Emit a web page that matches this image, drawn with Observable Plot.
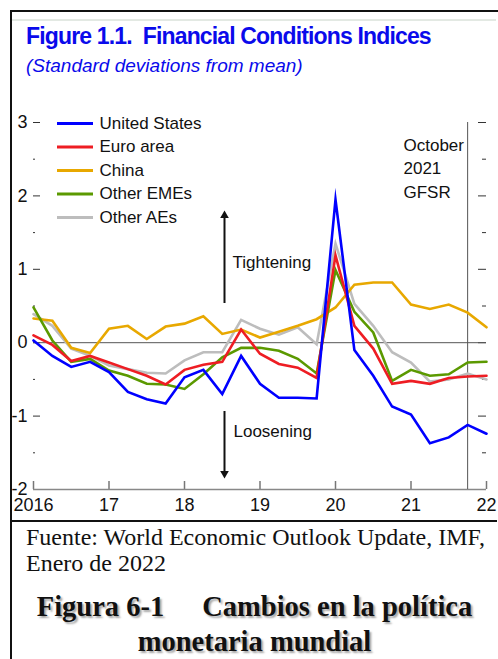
<!DOCTYPE html>
<html>
<head>
<meta charset="utf-8">
<script src="https://cdn.jsdelivr.net/npm/d3@7"></script>
<script src="https://cdn.jsdelivr.net/npm/@observablehq/plot@0.6"></script>
<style>
  html, body { margin: 0; padding: 0; background: #fff; }
  body { width: 498px; height: 659px; position: relative; overflow: hidden; }
  .abs { position: absolute; }
  #borderLeft { left: 10px; top: 10px; width: 2px; height: 660px; background: #111; }
  #borderTop { left: 10px; top: 10px; width: 490px; height: 2px; background: #111; }
  #faintLine { left: 12px; top: 19px; width: 484px; height: 2px; background: #e3e9e3; }
  #sepLine { left: 11px; top: 520px; width: 486px; height: 2px; background: #111; }
  #title { left: 26px; top: 25px; font: bold 23px "Liberation Sans", Arial, sans-serif; letter-spacing: -0.85px; color: #0a0aeb; white-space: nowrap; line-height: 1; }
  #subtitle { left: 26px; top: 56px; font: italic 19px "Liberation Sans", Arial, sans-serif; letter-spacing: 0px; color: #0a0aeb; white-space: nowrap; line-height: 1; }
  #chart { left: 0; top: 95px; }
  #source { left: 26px; top: 524px; font: 24px "Liberation Serif", "Times New Roman", serif; line-height: 26px; color: #111; width: 468px; }
  #figcap { left: 11px; top: 589px; width: 487px; text-align: center; font: bold 28.5px "Liberation Serif", "Times New Roman", serif; line-height: 35px; color: #111; text-shadow: 2px 2px 2px rgba(0,0,0,0.35); white-space: nowrap; }
  .gap { display: inline-block; width: 38px; }
</style>
</head>
<body>
<div class="abs" id="borderLeft"></div>
<div class="abs" id="borderTop"></div>
<div class="abs" id="faintLine"></div>
<div class="abs" id="title">Figure 1.1.&nbsp; Financial Conditions Indices</div>
<div class="abs" id="subtitle">(Standard deviations from mean)</div>
<div class="abs" id="chart"></div>
<div class="abs" id="sepLine"></div>
<div class="abs" id="source">Fuente: World Economic Outlook Update, IMF, Enero de 2022</div>
<div class="abs" id="figcap">Figura 6-1<span class="gap"></span>Cambios en la política<br>monetaria mundial</div>
<script>
// ---- data ----
const quarters = [2016.00, 2016.25, 2016.50, 2016.75, 2017.00, 2017.25, 2017.50, 2017.75,
                  2018.00, 2018.25, 2018.50, 2018.75, 2019.00, 2019.25, 2019.50, 2019.75,
                  2020.00, 2020.25, 2020.50, 2020.75, 2021.00, 2021.25, 2021.50, 2021.75, 2022.00];
const unitedStates = [0.03, -0.18, -0.33, -0.26, -0.40, -0.67, -0.77, -0.83,
                      -0.47, -0.37, -0.70, -0.18, -0.56, -0.75, -0.75, -0.76,
                      1.95, -0.10, -0.45, -0.87, -0.98, -1.37, -1.29, -1.12, -1.24];
const euroArea = [0.10, -0.03, -0.25, -0.18, -0.27, -0.36, -0.45, -0.57,
                  -0.37, -0.30, -0.26, 0.18, -0.15, -0.29, -0.34, -0.48,
                  1.19, 0.23, -0.08, -0.56, -0.52, -0.56, -0.48, -0.46, -0.45];
const china = [0.33, 0.30, -0.07, -0.14, 0.19, 0.23, 0.05, 0.22,
               0.26, 0.36, 0.12, 0.18, 0.07, 0.15, 0.23, 0.32,
               0.48, 0.79, 0.82, 0.82, 0.52, 0.46, 0.52, 0.41, 0.21];
const otherEMEs = [0.48, 0.03, -0.26, -0.22, -0.38, -0.45, -0.56, -0.57,
                   -0.63, -0.43, -0.20, -0.07, -0.07, -0.11, -0.22, -0.42,
                   0.99, 0.42, 0.14, -0.52, -0.37, -0.45, -0.43, -0.27, -0.26];
const otherAEs = [0.39, 0.23, -0.08, -0.18, -0.31, -0.36, -0.41, -0.42,
                  -0.24, -0.13, -0.13, 0.31, 0.19, 0.11, 0.21, -0.02,
                  1.35, 0.53, 0.23, -0.13, -0.27, -0.53, -0.50, -0.42, -0.50];

const seriesNames = ["United States", "Euro area", "China", "Other EMEs", "Other AEs"];
const seriesColors = ["#0000ff", "#ee1d23", "#e8a800", "#5b9900", "#bdbdbd"];
const drawOrder = ["Other AEs", "China", "Other EMEs", "Euro area", "United States"];
const seriesValues = {
  "United States": unitedStates, "Euro area": euroArea, "China": china,
  "Other EMEs": otherEMEs, "Other AEs": otherAEs
};
const yearTicks = [2016, 2017, 2018, 2019, 2020, 2021, 2022];
const yearLabels = ["2016", "17", "18", "19", "20", "21", "22"];
const yTicks = [-2, -1, 0, 1, 2, 3];
const yMinorTicks = [-1.5, -0.5, 0.5, 1.5, 2.5];
const gfsrDate = 2021.75;
const gfsrLabel = ["October", "2021", "GFSR"];
const tightLabel = "Tightening";
const looseLabel = "Loosening";

// ---- layout ----
const W = 498, H = 425, mL = 33, mR = 12, mT = 27, mB = 31, top0 = 95;
const xDom = [2016, 2022], yDom = [-2, 3];
const xPerPx = (xDom[1] - xDom[0]) / (W - mL - mR);
const yPerPx = (yDom[1] - yDom[0]) / (H - mT - mB);
// page pixel -> data helpers for annotations
const X = px => xDom[0] + (px - mL) * xPerPx;
const Y = py => yDom[1] - (py - (top0 + mT)) * yPerPx;

const longData = drawOrder.flatMap(s => quarters.map((q, i) => ({date: q, value: seriesValues[s][i], series: s})));
const legendData = seriesNames.map((s, i) => ({series: s, y: Y(123 + i * 23.5)}));
const gfsrData = gfsrLabel.map((t, i) => ({t, y: Y(145 + i * 23.5)}));

const font = "'Liberation Sans', Arial, sans-serif";
const chart = Plot.plot({
  width: W, height: H,
  marginLeft: mL, marginRight: mR, marginTop: mT, marginBottom: mB,
  style: {fontFamily: font, fontSize: "17px", color: "#111", background: "transparent"},
  x: {domain: xDom, label: null},
  y: {domain: yDom, label: null},
  color: {domain: seriesNames, range: seriesColors},
  marks: [
    Plot.axisX({ticks: yearTicks, tickFormat: d => yearLabels[yearTicks.indexOf(d)], tickSize: 0, tickPadding: 9, fontSize: 18, label: null}),
    Plot.axisY({ticks: yTicks, tickFormat: d => String(d), tickSize: 0, tickPadding: 6, fontSize: 18, label: null}),
    // axis ticks
    Plot.ruleY(yTicks, {y: d => d, x1: xDom[0], x2: X(40), stroke: "#333", strokeWidth: 1}),
    Plot.ruleY(yMinorTicks, {y: d => d, x1: xDom[0], x2: X(35), stroke: "#333", strokeWidth: 1}),
    Plot.ruleY(yTicks, {y: d => d, x1: X(478), x2: xDom[1], stroke: "#333", strokeWidth: 1}),
    Plot.ruleY(yMinorTicks, {y: d => d, x1: X(482), x2: xDom[1], stroke: "#333", strokeWidth: 1}),
    Plot.ruleX(yearTicks, {x: d => d, y1: yDom[0], y2: yDom[0] + 8 * yPerPx, stroke: "#777", strokeWidth: 1.5}),
    Plot.ruleY([yDom[0]], {stroke: "#888", strokeWidth: 1.5}),
    Plot.ruleY([0], {stroke: "#555", strokeWidth: 1}),
    Plot.ruleX([gfsrDate], {stroke: "#555", strokeWidth: 1}),
    // series
    Plot.line(longData, {x: "date", y: "value", z: "series", stroke: "series", strokeWidth: 2.6, strokeLinejoin: "miter", strokeMiterlimit: 10}),
    // legend
    Plot.ruleY(legendData, {y: "y", x1: X(57), x2: X(93), stroke: "series", strokeWidth: 3.2}),
    Plot.text(legendData, {x: X(99), y: "y", text: "series", textAnchor: "start", fontSize: 17, fill: "#111"}),
    // annotations
    Plot.text(gfsrData, {x: X(403), y: "y", text: "t", textAnchor: "start", fontSize: 17, fill: "#111"}),
    Plot.ruleX([X(224)], {y1: Y(303), y2: Y(217), stroke: "#111", strokeWidth: 2}),
    Plot.dot([X(224)], {x: d => d, y: Y(215), symbol: "triangle", r: 3.2, fill: "#111", stroke: "none"}),
    Plot.ruleX([X(224)], {y1: Y(411), y2: Y(471), stroke: "#111", strokeWidth: 2}),
    Plot.dot([X(224)], {x: d => d, y: Y(473), symbol: "triangle", r: 3.2, rotate: 180, fill: "#111", stroke: "none"}),
    Plot.text([tightLabel], {x: X(232), y: Y(262), text: d => d, textAnchor: "start", fontSize: 17, fill: "#111"}),
    Plot.text([looseLabel], {x: X(233), y: Y(431), text: d => d, textAnchor: "start", fontSize: 17, fill: "#111"})
  ]
});
document.getElementById("chart").appendChild(chart);
</script>
</body>
</html>
